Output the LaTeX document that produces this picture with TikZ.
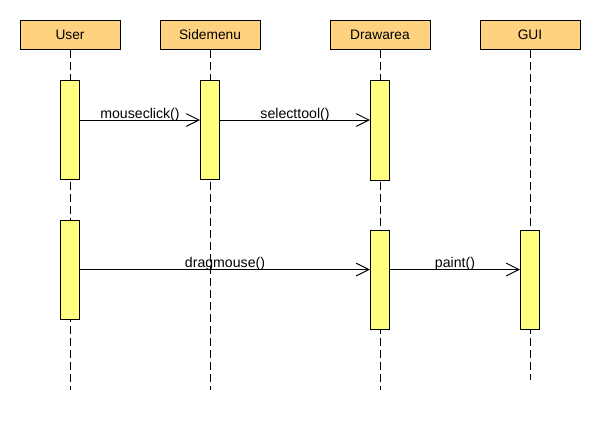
\documentclass[tikz,border=0pt]{standalone}
\usepackage{fontspec}
\setmainfont{Liberation Sans}
\usetikzlibrary{positioning,arrows.meta}

\definecolor{headfill}{HTML}{FFD280}
\definecolor{actfill}{HTML}{FFFF80}

\tikzset{
  object/.style={draw,fill=headfill,line width=0.75pt,minimum width=75pt,minimum height=21.75pt,inner sep=0pt,font=\fontsize{10.3}{12}\selectfont},
  activation/.style={draw,fill=actfill,line width=0.75pt,minimum width=14.25pt,inner sep=0pt},
  lifeline/.style={line width=0.75pt,dash pattern=on 6pt off 3pt},
  msg/.style={line width=0.75pt,-{Straight Barb[length=9.5pt,width=9.5pt,line width=0.75pt]}},
  msglabel/.style={anchor=base,yshift=1.3pt,inner sep=0pt,font=\fontsize{10.6}{12}\selectfont}
}

\begin{document}
\begin{tikzpicture}[x=0.75pt,y=-0.75pt]
\useasboundingbox (0,0) rectangle (600,430);

\node[object] (user) at (70,34.5) {User};
\node[object] (side) at (210,34.5) {Sidemenu};
\node[object] (draw) at (380,34.5) {Drawarea};
\node[object] (gui) at (530,34.5) {GUI};

\coordinate (end) at (0,390);
\coordinate (guiend) at (0,380);
\draw[lifeline] (user.south) -- (user |- end);
\draw[lifeline] (side.south) -- (side |- end);
\draw[lifeline] (draw.south) -- (draw |- end);
\draw[lifeline] (gui.south) -- (gui |- guiend);

% first call
\node[activation,minimum height=74.25pt] (u1) at (70,129.5) {};
\node[activation,minimum height=74.25pt] (s1) at (210,129.5) {};
\node[activation,minimum height=75pt] (d1) at (380,130) {};

% second call
\node[activation,minimum height=74.25pt] (u2) at (70,269.5) {};
\node[activation,minimum height=74.25pt] (d2) at (380,279.5) {};
\node[activation,minimum height=74.25pt] (g2) at (530,279.5) {};

\coordinate (row1) at (0,120);
\coordinate (row2) at (0,269.5);
\draw[msg] (u1.east |- row1) -- node[msglabel]{mouseclick()} (s1.west |- row1);
\draw[msg] (s1.east |- row1) -- node[msglabel]{selecttool()} (d1.west |- row1);
\draw[msg] (u2.east |- row2) -- node[msglabel]{dragmouse()} (d2.west |- row2);
\draw[msg] (d2.east |- row2) -- node[msglabel]{paint()} (g2.west |- row2);

\end{tikzpicture}
\end{document}
